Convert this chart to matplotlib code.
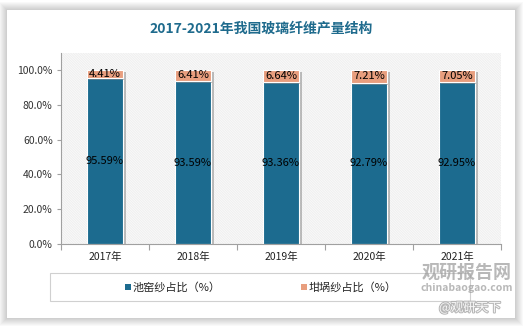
import matplotlib
matplotlib.use('Agg')
import matplotlib.pyplot as plt
import matplotlib.patheffects as pe
from matplotlib.patches import Rectangle
import numpy as np

plt.rcParams['font.family'] = ['Noto Sans CJK SC', 'DejaVu Sans']
plt.rcParams['hatch.linewidth'] = 0.3
plt.rcParams['hatch.color'] = '#e0e0e0'

# data
years = ['2017年', '2018年', '2019年', '2020年', '2021年']
tank_share = [95.59, 93.59, 93.36, 92.79, 92.95]
pot_share = [4.41, 6.41, 6.64, 7.21, 7.05]
series_names = ['池窑纱占比（%）', '坩埚纱占比（%）']
title = '2017-2021年我国玻璃纤维产量结构'

blue = '#1c6b8f'
orange = '#e89e7e'
W, H = 523, 326

fig = plt.figure(figsize=(W / 100, H / 100), dpi=100)
fig.patch.set_facecolor('white')


def fx(px):
    return px / W


def fy(py):
    return 1 - py / H


# soft shadow round the white panel
for i in range(8, 0, -1):
    fig.patches.append(Rectangle((fx(7 - i), fy(318 + i)), fx(508 + 2 * i), (308 + 2 * i) / H,
                                 transform=fig.transFigure, facecolor='#000000',
                                 alpha=0.025, edgecolor='none', zorder=-2))
fig.patches.append(Rectangle((fx(7), fy(318)), fx(508), 308 / H, transform=fig.transFigure,
                             facecolor='white', edgecolor='none', zorder=-1))

fig.text(fx(261), fy(29), title, ha='center', va='center', fontsize=10,
         fontweight='bold', color='#1f6b8d')

ax = fig.add_axes([fx(61), fy(244), fx(440), (244 - 52.7) / H])
ax.set_facecolor('none')
ax.add_patch(Rectangle((0, 0), 1, 1, transform=ax.transAxes, facecolor='white',
                       hatch='\\' * 20, edgecolor='#e0e0e0', linewidth=0, zorder=0))

x = np.arange(len(years))
a = np.array(tank_share) / 100
b = np.array(pot_share) / 100
shadow = [pe.SimplePatchShadow(offset=(2, -1.5), shadow_rgbFace='#808080', alpha=0.5), pe.Normal()]
bars1 = ax.bar(x, a, width=0.42, color=blue, edgecolor='white', linewidth=0.8, zorder=2)
bars2 = ax.bar(x, b, width=0.42, bottom=a, color=orange, edgecolor='white', linewidth=0.8, zorder=2)
for bar in list(bars1) + list(bars2):
    bar.set_path_effects(shadow)

for i in range(len(years)):
    ax.text(x[i], a[i] / 2, f'{tank_share[i]:.2f}%', ha='center', va='center',
            fontsize=8, color='black', zorder=3)
    ax.text(x[i], a[i] + b[i] / 2 + 0.002, f'{pot_share[i]:.2f}%', ha='center', va='center',
            fontsize=8, color='black', zorder=3)

ax.set_xlim(-0.5, len(years) - 0.5)
ax.set_ylim(0, 1.1)
ax.set_yticks(np.arange(0, 1.01, 0.2))
ax.set_yticklabels([f'{v * 100:.1f}%' for v in np.arange(0, 1.01, 0.2)])
ax.set_xticks(x)
ax.set_xticklabels(years)
ax.set_xticks(np.arange(-0.5, len(years), 1), minor=True)
ax.tick_params(axis='x', which='major', length=0, pad=6, labelsize=7.5, labelcolor='#222222')
ax.tick_params(axis='x', which='minor', length=4, color='#a0a0a0', width=0.8)
ax.tick_params(axis='y', length=3, color='#a0a0a0', width=0.8, labelsize=7.5,
               labelcolor='#333333', pad=3)
for s in ['top', 'right']:
    ax.spines[s].set_visible(False)
for s in ['left', 'bottom']:
    ax.spines[s].set_color('#a0a0a0')
    ax.spines[s].set_linewidth(0.8)

# legend box
fig.patches.append(Rectangle((fx(50), fy(301)), fx(420), 28 / H, transform=fig.transFigure,
                             facecolor='none', edgecolor='#d0d0d0', linewidth=0.8, zorder=1))
for px, col, name in [(128, blue, series_names[0]), (304, orange, series_names[1])]:
    fig.patches.append(Rectangle((fx(px - 3), fy(290)), fx(6), 6 / H, transform=fig.transFigure,
                                 facecolor=col, edgecolor='none', zorder=2))
    fig.text(fx(px + 5), fy(287.5), name, ha='left', va='center', fontsize=8, color='#222222')

# watermark
fig.text(fx(467), fy(272), '观研报告网', ha='center', va='center', fontsize=13,
         fontweight='bold', color='#9a9a9a', alpha=0.7, zorder=5)
fig.text(fx(467), fy(288), 'chinabaogao.com', ha='center', va='center', fontsize=7.5,
         fontweight='bold', color='#9a9a9a', alpha=0.7, zorder=5)
fig.text(fx(470), fy(308), '@观研天下', ha='center', va='center', fontsize=9,
         color='white', alpha=0.9, zorder=5,
         path_effects=[pe.withStroke(linewidth=1.5, foreground='#b0b0b0')])

fig.savefig('out.png', dpi=100)
